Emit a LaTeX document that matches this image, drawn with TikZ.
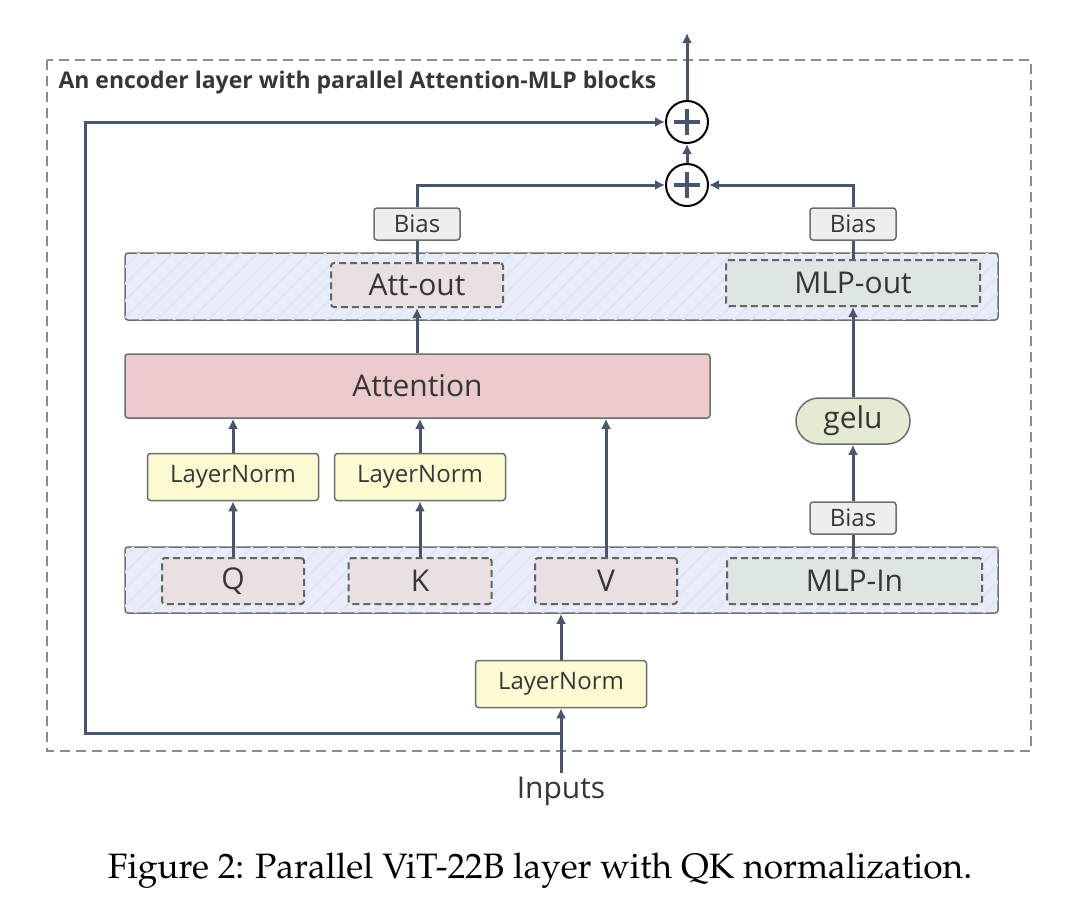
\documentclass[tikz,border=0pt]{standalone}
\usepackage[T1]{fontenc}
\usepackage{fontspec}
\setmainfont{Open Sans}
\usetikzlibrary{patterns.meta,arrows.meta}

\definecolor{wirecol}{RGB}{72,86,107}
\definecolor{boxgray}{RGB}{110,110,110}
\definecolor{dashgray}{RGB}{100,100,100}
\definecolor{framegray}{RGB}{140,140,140}
\definecolor{txtcol}{RGB}{55,55,55}
\definecolor{bandblue}{RGB}{233,237,250}
\definecolor{stripe}{RGB}{224,229,245}
\definecolor{biasfill}{RGB}{238,238,238}
\definecolor{lnfill}{RGB}{253,251,210}
\definecolor{attfill}{RGB}{235,203,204}
\definecolor{qkvfill}{RGB}{233,224,228}
\definecolor{mlpfill}{RGB}{221,230,227}
\definecolor{gelufill}{RGB}{227,235,211}

\newcommand{\bigfont}{\fontsize{30}{36}\selectfont}
\newcommand{\smallfont}{\fontsize{24}{29}\selectfont}

\tikzset{
  box/.style={draw=boxgray, line width=1.5pt, rounded corners=3pt, inner sep=0pt, text=txtcol},
  band/.style={box, fill=bandblue, postaction={pattern={Lines[angle=45,distance=12pt,line width=2pt]}, pattern color=stripe}},
  dbox/.style={draw=dashgray, line width=2pt, dash pattern=on 7pt off 4pt, rounded corners=3pt, inner sep=0pt, text=txtcol, font=\bigfont, minimum height=46},
  biasbox/.style={box, fill=biasfill, font=\smallfont, minimum width=86, minimum height=32},
  lnbox/.style={box, fill=lnfill, font=\smallfont, minimum width=171, minimum height=47},
  plus/.style={circle, draw=black, line width=2pt, minimum size=42, inner sep=0pt,
    path picture={\draw[wirecol, line width=3.5pt] (path picture bounding box.center) ++(-13,0) -- ++(26,0)
      (path picture bounding box.center) ++(0,-13) -- ++(0,26);}},
  wire/.style={draw=wirecol, line width=3pt}
}

\begin{document}
\begin{tikzpicture}[x=1pt, y=-1pt, >={Latex[length=10pt,width=10pt]}]
\useasboundingbox (0,0) rectangle (1080,918);

% frame and title
\draw[framegray, line width=2pt, dash pattern=on 10pt off 6pt] (47,60) rectangle (1031,751);
\node[anchor=west, text=txtcol, font=\fontsize{23}{27}\selectfont\bfseries] (title) at (55,83) {An encoder layer with parallel Attention-MLP blocks};

% bands
\node[band, minimum width=873, minimum height=67] (outband) at (561.5,286.5) {};
\node[band, minimum width=873, minimum height=66] (inband) at (561.5,580) {};

% input side
\node[dbox, fill=qkvfill, minimum width=142] (q) at (233,581) {Q};
\node[dbox, fill=qkvfill, minimum width=143] (k) at (420,581) {K};
\node[dbox, fill=qkvfill, minimum width=142] (v) at (606,581) {V};
\node[dbox, fill=mlpfill, minimum width=255] (mlpin) at (854.5,581) {MLP-In};

\node[lnbox] (ln0) at (561,684) {LayerNorm};
\node[lnbox] (lnq) at (233,477) {LayerNorm};
\node[lnbox] (lnk) at (420,477) {LayerNorm};
\node[text=txtcol, font=\bigfont] (inputs) at (561,791) {Inputs};
\coordinate (split) at (561,733);

% middle
\node[box, fill=attfill, font=\bigfont, minimum width=585, minimum height=64] (att) at (417.5,386) {Attention};
\node[biasbox] (biasm) at (853,518) {Bias};
\node[box, fill=gelufill, font=\bigfont, rounded corners=23pt, minimum width=114, minimum height=46] (gelu) at (853,421) {gelu};

% output side
\node[dbox, fill=qkvfill, minimum width=172, minimum height=44] (attout) at (417,285) {Att-out};
\node[dbox, fill=mlpfill, minimum width=254] (mlpout) at (853,283) {MLP-out};
\node[biasbox] (biasa) at (417,224) {Bias};
\node[biasbox] (biaso) at (853,224) {Bias};

\node[plus] (plusb) at (687,185) {};
\node[plus] (plusa) at (687,122) {};
\coordinate (top) at (687,33);
\coordinate (skip) at (85,122);

% connectors
\draw[wire, ->] (inputs.north) -- (ln0.south);
\draw[wire, ->] (ln0.north) -- (inband.south -| ln0.north);
\draw[wire, ->] (split) -| (skip) -- (plusa.west);
\draw[wire, ->] (q.north) -- (lnq.south);
\draw[wire, ->] (k.north) -- (lnk.south);
\draw[wire, ->] (lnq.north) -- (att.south -| lnq.north);
\draw[wire, ->] (lnk.north) -- (att.south -| lnk.north);
\draw[wire, ->] (v.north) -- (att.south -| v.north);
\draw[wire] (mlpin.north -| biasm) -- (biasm.south);
\draw[wire, ->] (biasm.north) -- (gelu.south);
\draw[wire, ->] (gelu.north) -- (mlpout.south);
\draw[wire, ->] (att.north -| attout) -- (attout.south);
\draw[wire] (attout.north) -- (biasa.south);
\draw[wire] (mlpout.north) -- (biaso.south);
\draw[wire, ->] (biasa.north) |- (plusb.west);
\draw[wire, ->] (biaso.north) |- (plusb.east);
\draw[wire, ->] (plusb.north) -- (plusa.south);
\draw[wire, ->] (plusa.north) -- (top);

% caption
\node[font=\fontencoding{T1}\fontfamily{ppl}\fontsize{35.3}{41}\selectfont, text=black] (caption) at (540,871) {Figure 2: Parallel ViT-22B layer with QK normalization.};
\end{tikzpicture}
\end{document}
